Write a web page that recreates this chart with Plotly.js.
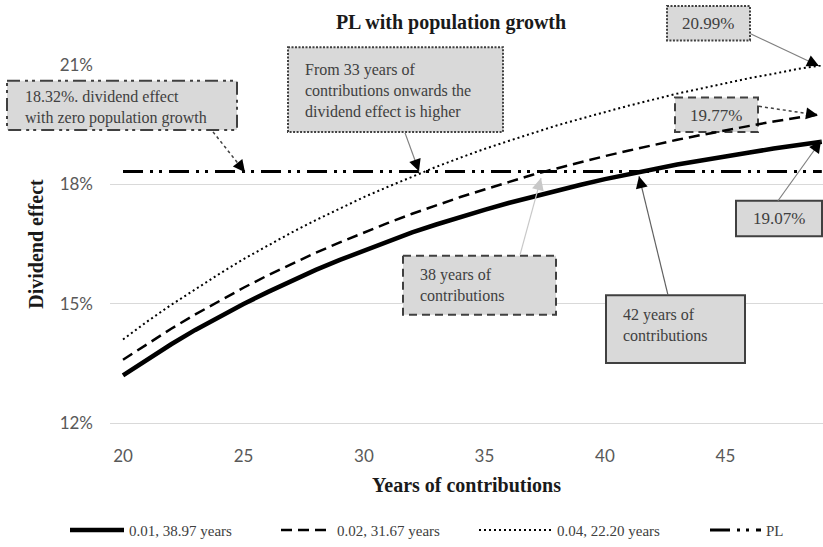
<!DOCTYPE html>
<html><head><meta charset="utf-8">
<script src="https://cdn.plot.ly/plotly-3.0.1.min.js"></script>
<style>html,body{margin:0;padding:0;background:#fff;}#chart{width:823px;height:547px;}</style>
</head><body><div id="chart"></div>
<script>
// ---------- data ----------
const years = [20,21,22,23,24,25,26,27,28,29,30,31,32,33,34,35,36,37,38,39,40,41,42,43,44,45,46,47,48,49];
const growth001 = [13.20,13.60,13.98,14.34,14.67,14.99,15.29,15.58,15.85,16.10,16.34,16.57,16.79,16.99,17.18,17.36,17.53,17.69,17.85,17.99,18.13,18.26,18.38,18.50,18.60,18.71,18.80,18.90,18.98,19.07];
const growth002 = [13.59,13.99,14.37,14.73,15.07,15.40,15.71,16.00,16.28,16.54,16.79,17.03,17.26,17.48,17.68,17.87,18.06,18.24,18.40,18.56,18.71,18.85,18.99,19.12,19.24,19.36,19.47,19.58,19.67,19.77];
const growth004 = [14.10,14.55,14.97,15.37,15.75,16.12,16.46,16.79,17.10,17.40,17.68,17.94,18.20,18.44,18.67,18.89,19.09,19.29,19.48,19.65,19.82,19.98,20.13,20.28,20.41,20.54,20.67,20.78,20.90,20.99];
const plZeroGrowth = [18.32,18.32,18.32,18.32,18.32,18.32,18.32,18.32,18.32,18.32,18.32,18.32,18.32,18.32,18.32,18.32,18.32,18.32,18.32,18.32,18.32,18.32,18.32,18.32,18.32,18.32,18.32,18.32,18.32,18.32];
const seriesNames = ['0.01, 38.97 years','0.02, 31.67 years','0.04, 22.20 years','PL'];
const yTickVals = [12,15,18,21];
const yTickText = ['12%','15%','18%','21%'];
const xTickVals = [20,25,30,35,40,45];
const xTickText = ['20','25','30','35','40','45'];
const chartTitle = 'PL with population growth';
const xTitle = 'Years of contributions';
const yTitle = 'Dividend effect';
const noteTexts = [
  '18.32%. dividend effect<br>with zero population growth',
  'From 33 years of<br>contributions onwards the<br>dividend effect is higher',
  '20.99%',
  '19.77%',
  '19.07%',
  '38 years of<br>contributions',
  '42 years of<br>contributions'
];

// ---------- layout helpers (pixel -> paper) ----------
const L = 110, R = 823, T = 65, B = 429;
const P = v => (v - L) / (R - L);
const Q = v => (B - v) / (B - T);
const serif = "'Liberation Serif', 'Times New Roman', serif";
const sans = "Lato, 'Open Sans', sans-serif";
const textGrey = '#404040';

const traces = [
  {x: years, y: growth001, name: seriesNames[0], legend: 'legend', mode: 'lines', line: {color: '#000', width: 4.5}},
  {x: years, y: growth002, name: seriesNames[1], legend: 'legend2', mode: 'lines', line: {color: '#000', width: 2.5, dash: '11px,6px'}},
  {x: years, y: growth004, name: seriesNames[2], legend: 'legend3', mode: 'lines', line: {color: '#000', width: 2, dash: '2px,3px'}},
  {x: years, y: plZeroGrowth, name: seriesNames[3], legend: 'legend4', mode: 'lines', line: {color: '#000', width: 3, dash: '20px,7px,3px,6px,3px,7px'}}
];

// boxes: [x0,y0,x1,y1,dash,layer]
const boxes = [
  [7, 81, 237, 131, '13px,5px,3px,4px,3px,5px', 'above'],
  [288, 47, 503, 133, '2px,1.5px', 'above'],
  [667, 5, 750, 40, '2px,1.5px', 'above'],
  [675, 98, 758, 133, '8px,5px', 'between'],
  [736, 203, 822, 239, 'solid', 'above'],
  [403, 259, 556, 319, '8px,5px', 'above'],
  [606, 299, 745, 368, 'solid', 'above']
];
// text placement: [x, y, xanchor, size]
const textPos = [
  [23, 108, 'left', 16],
  [303, 91, 'left', 16],
  [708, 23, 'center', 17],
  [716, 116, 'center', 17],
  [779, 221, 'center', 17],
  [418, 289, 'left', 16],
  [621, 329, 'left', 16]
];
// arrows: [tailx, taily, headx, heady, dash, lineColor, headColor, width]
const arrows = [
  [213, 133, 245, 174, 'dot', '#404040', '#000', 1.5],
  [405, 134, 419, 173, 'solid', '#808080', '#000', 1.2],
  [750, 33, 819, 66, 'solid', '#808080', '#000', 1.2],
  [759, 107, 818, 116, 'dot', '#404040', '#000', 1.5],
  [778, 203, 821, 142, 'solid', '#808080', '#000', 1.2],
  [520, 258, 541, 180, 'solid', '#c8c8c8', '#c8c8c8', 1.2],
  [668, 299, 639, 178, 'solid', '#606060', '#000', 1.2]
];

const shapes = [];
const annotations = [];
boxes.forEach(b => {
  shapes.push({type: 'rect', xref: 'paper', yref: 'paper', x0: P(b[0]), y0: Q(b[1]), x1: P(b[2]), y1: Q(b[3]),
    fillcolor: '#d9d9d9', layer: b[5], line: {color: textGrey, width: 2, dash: b[4]}});
});
arrows.forEach(a => {
  shapes.push({type: 'line', xref: 'paper', yref: 'paper', x0: P(a[0]), y0: Q(a[1]), x1: P(a[2]), y1: Q(a[3]),
    layer: 'above', line: {color: a[5], width: a[7], dash: a[4]}});
  const dx = a[0] - a[2], dy = a[1] - a[3], len = Math.hypot(dx, dy);
  annotations.push({xref: 'paper', yref: 'paper', x: P(a[2]), y: Q(a[3]), text: '', showarrow: true,
    ax: dx / len * 9, ay: dy / len * 9, arrowhead: 2, arrowsize: 1.6, arrowwidth: 1.5, arrowcolor: a[6], standoff: 0});
});
noteTexts.forEach((t, i) => {
  const p = textPos[i];
  annotations.push({xref: 'paper', yref: 'paper', x: P(p[0]), y: Q(p[1]), xanchor: p[2], yanchor: 'middle',
    align: p[2] === 'center' ? 'center' : 'left', text: t, showarrow: false,
    font: {family: serif, size: p[3], color: textGrey}});
});

// legend boxes: [x of legend start (px), symbol width]
const legendSpots = [[65, 54], [276, 51], [474, 73], [705, 51]];
const legendBase = {orientation: 'h', xanchor: 'left', yanchor: 'middle', y: Q(538),
  font: {family: serif, size: 15, color: textGrey}, bgcolor: 'rgba(0,0,0,0)'};
const mkLegend = s => Object.assign({}, legendBase, {x: P(s[0]), itemwidth: s[1]});

const layout = {
  width: 823, height: 547,
  margin: {l: L, r: 823 - R, t: T, b: 547 - B},
  paper_bgcolor: '#fff', plot_bgcolor: '#fff',
  title: {text: '<b>' + chartTitle + '</b>', x: 451 / 823, xref: 'container', xanchor: 'center',
    y: 1 - 22 / 547, yref: 'container', yanchor: 'middle', font: {family: serif, size: 20, color: '#1a1a1a'}},
  xaxis: {range: [19.46, 49.05], tickvals: xTickVals, ticktext: xTickText, showgrid: false, zeroline: false,
    showline: true, linecolor: '#d9d9d9', linewidth: 1, ticks: '', ticklabelstandoff: 18,
    tickfont: {family: sans, size: 17, color: '#595959'},
    title: {text: '<b>' + xTitle + '</b>', standoff: 12, font: {family: serif, size: 20, color: '#1a1a1a'}}},
  yaxis: {range: [12, 21], tickvals: yTickVals, ticktext: yTickText, showgrid: true, gridcolor: '#d9d9d9', gridwidth: 1,
    zeroline: false, showline: false, ticks: '', ticklabelstandoff: 16,
    tickfont: {family: sans, size: 17, color: '#595959'},
    title: {text: '<b>' + yTitle + '</b>', standoff: 10, font: {family: serif, size: 20, color: '#1a1a1a'}}},
  showlegend: true,
  legend: mkLegend(legendSpots[0]),
  legend2: mkLegend(legendSpots[1]),
  legend3: mkLegend(legendSpots[2]),
  legend4: mkLegend(legendSpots[3]),
  shapes: shapes,
  annotations: annotations
};

Plotly.newPlot('chart', traces, layout, {displayModeBar: false, staticPlot: true});
</script>
</body></html>
